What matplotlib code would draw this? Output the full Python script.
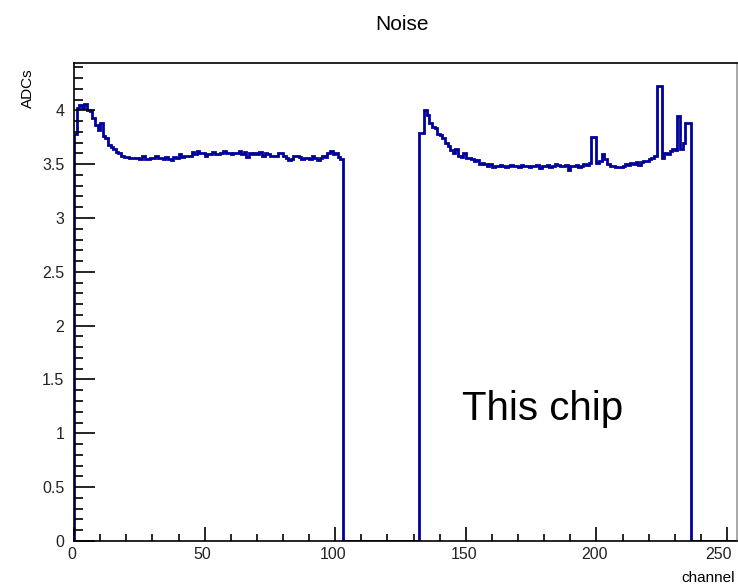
import numpy as np
import matplotlib
matplotlib.use("Agg")
import matplotlib.pyplot as plt
import matplotlib.transforms as mtransforms
from matplotlib.ticker import MultipleLocator

plt.rcParams['font.family'] = ['Liberation Sans', 'DejaVu Sans']

# noise per channel (ADC counts)
n_channels = 256
start_a = 0
noise_a = [3.78, 4.02, 4.05, 4.02, 4.06, 4.00, 3.99, 3.93, 3.86, 3.82,
           3.88, 3.76, 3.74, 3.68, 3.66, 3.64, 3.61, 3.60, 3.58, 3.57,
           3.57, 3.56, 3.56, 3.56, 3.56, 3.55, 3.58, 3.55, 3.55, 3.56,
           3.56, 3.58, 3.56, 3.56, 3.55, 3.57, 3.55, 3.54, 3.57, 3.56,
           3.59, 3.57, 3.58, 3.58, 3.58, 3.61, 3.59, 3.62, 3.60, 3.60,
           3.58, 3.59, 3.59, 3.61, 3.59, 3.59, 3.60, 3.62, 3.60, 3.60,
           3.59, 3.60, 3.60, 3.62, 3.59, 3.61, 3.57, 3.60, 3.59, 3.60,
           3.59, 3.61, 3.58, 3.60, 3.59, 3.58, 3.58, 3.58, 3.60, 3.60,
           3.58, 3.56, 3.54, 3.55, 3.58, 3.58, 3.57, 3.55, 3.56, 3.56,
           3.55, 3.58, 3.56, 3.54, 3.56, 3.58, 3.57, 3.60, 3.62, 3.59,
           3.60, 3.57, 3.55]
start_b = 132
noise_b = [3.79, 3.79, 4.00, 3.96, 3.88, 3.85, 3.84, 3.78, 3.77, 3.74,
           3.70, 3.67, 3.63, 3.60, 3.64, 3.58, 3.57, 3.60, 3.56, 3.56,
           3.55, 3.53, 3.54, 3.50, 3.51, 3.50, 3.48, 3.50, 3.47, 3.48,
           3.48, 3.49, 3.48, 3.47, 3.48, 3.49, 3.48, 3.48, 3.47, 3.49,
           3.48, 3.48, 3.47, 3.48, 3.48, 3.49, 3.46, 3.48, 3.48, 3.49,
           3.47, 3.48, 3.50, 3.49, 3.48, 3.48, 3.49, 3.45, 3.48, 3.48,
           3.49, 3.47, 3.48, 3.50, 3.49, 3.51, 3.75, 3.75, 3.51, 3.53,
           3.59, 3.55, 3.50, 3.48, 3.48, 3.47, 3.47, 3.47, 3.48, 3.50,
           3.49, 3.51, 3.50, 3.52, 3.49, 3.52, 3.53, 3.53, 3.55, 3.56,
           3.58, 4.23, 4.23, 3.56, 3.60, 3.59, 3.62, 3.64, 3.63, 3.95,
           3.64, 3.70, 3.88, 3.88]

counts = np.zeros(n_channels)
counts[start_a:start_a + len(noise_a)] = noise_a
counts[start_b:start_b + len(noise_b)] = noise_b
edges = np.arange(n_channels + 1)

fig = plt.figure(figsize=(7.38, 5.87), dpi=100)
ax = fig.add_axes([0.1003, 0.0784, 0.898, 0.8143])

ax.stairs(counts, edges, color='#00009a', linewidth=2.0, baseline=0)

ax.set_xlim(0, 253.7)
ax.set_ylim(0, 4.44)

ax.xaxis.set_major_locator(MultipleLocator(50))
ax.xaxis.set_minor_locator(MultipleLocator(10))
ax.yaxis.set_major_locator(MultipleLocator(0.5))
ax.yaxis.set_minor_locator(MultipleLocator(0.1))
ax.yaxis.set_major_formatter(plt.FuncFormatter(lambda v, p: f"{v:g}"))

ax.tick_params(axis='x', which='major', direction='in', length=10, width=1.2,
               labelsize=11.5, pad=4, colors='black', labelcolor='#222222')
ax.tick_params(axis='x', which='minor', direction='in', length=5, width=1.2)
ax.tick_params(axis='y', which='major', direction='in', length=15, width=1.2,
               labelsize=11.5, pad=7, labelcolor='#222222')
ax.tick_params(axis='y', which='minor', direction='in', length=6.5, width=1.2)

for s in ax.spines.values():
    s.set_linewidth(1.2)
ax.spines['right'].set_color('#999999')

# nudge the x tick labels a bit left, like ROOT does; the last one more so it fits
fig.canvas.draw()
for lab in ax.get_xticklabels():
    shift = -9 if lab.get_text() == '250' else -2
    lab.set_transform(lab.get_transform() +
                      mtransforms.ScaledTranslation(shift / 100, 0, fig.dpi_scale_trans))

fig.text(402 / 738, 1 - 25 / 587, 'Noise', ha='center', va='center', fontsize=15)
fig.text(28 / 738, 1 - 68 / 587, 'ADCs', rotation=90, ha='center', va='top', fontsize=11)
fig.text(735 / 738, 1 - 578 / 587, 'channel', ha='right', va='center', fontsize=11)

ax.text(148.5, 1.12, 'This chip', fontsize=29, ha='left', va='baseline')

fig.savefig('out.png', dpi=100)
